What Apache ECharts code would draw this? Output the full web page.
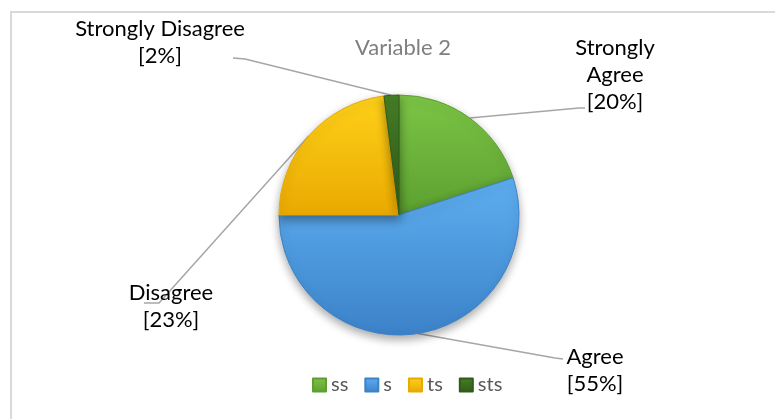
<!DOCTYPE html>
<html>
<head>
<meta charset="utf-8">
<script src="https://cdn.jsdelivr.net/npm/echarts@6/dist/echarts.min.js"></script>
<style>
  html, body { margin: 0; padding: 0; background: #fff; }
  #main { width: 775px; height: 419px; }
</style>
</head>
<body>
<div id="main"></div>
<script>
// data
var categories = ["ss", "s", "ts", "sts"];
var answerNames = ["Strongly\nAgree", "Agree", "Disagree", "Strongly Disagree"];
var percentages = [20, 55, 23, 2];

// colours (top / bottom of each slice)
var sliceColors = [
  ["#7cc646", "#5c9f30"],
  ["#5eaef0", "#3c82c9"],
  ["#ffd11a", "#e9a900"],
  ["#467f26", "#2f5c18"]
];
// where the labels sit (centre of the text block)
var labelSpots = [[615, 75], [595, 370], [171, 306], [160, 42]];
// leader line ends, relative to the label centre: [elbow, end]
var lineEnds = [
  [[-36, 33], [-30, 33]],
  [[-40, -12], [-32, -11]],
  [[-12, -3], [-27, -3]],
  [[85, 17], [73, 16]]
];

var myChart = echarts.init(document.getElementById("main"));

var pieData = categories.map(function (c, i) {
  return {
    name: c,
    value: percentages[i],
    answer: answerNames[i],
    itemStyle: {
      color: new echarts.graphic.LinearGradient(0, 0, 0, 1, [
        { offset: 0, color: sliceColors[i][0] },
        { offset: 1, color: sliceColors[i][1] }
      ]),
      borderColor: sliceColors[i][1]
    }
  };
});

myChart.setOption({
  animation: false,
  title: {
    text: "Variable 2",
    left: 350,
    top: 32,
    textStyle: { color: "#7f7f7f", fontSize: 22, fontWeight: "normal", fontFamily: "Lato" }
  },
  legend: {
    data: categories,
    bottom: 19,
    left: 307,
    icon: "rect",
    itemWidth: 13,
    itemHeight: 13,
    itemGap: 16,
    textStyle: { color: "#595959", fontSize: 20, fontFamily: "Lato" }
  },
  graphic: [{
    type: "rect",
    shape: { x: 11, y: 12, width: 800, height: 450 },
    style: { fill: null, stroke: "#d9d9d9", lineWidth: 2 },
    silent: true
  }],
  series: [{
    type: "pie",
    center: [399, 215],
    radius: 120,
    startAngle: 90,
    clockwise: true,
    data: pieData,
    itemStyle: {
      borderWidth: 1,
      shadowBlur: 10,
      shadowOffsetY: 4,
      shadowColor: "rgba(0,0,0,0.35)"
    },
    label: {
      show: true,
      position: "outside",
      color: "#000",
      fontSize: 22,
      lineHeight: 27,
      fontFamily: "Lato",
      align: "center",
      formatter: function (p) {
        return p.data.answer + "\n[" + p.value + "%]";
      }
    },
    labelLine: {
      show: true,
      length: 20,
      length2: 10,
      lineStyle: { color: "#a6a6a6", width: 1.5 }
    },
    labelLayout: function (params) {
      var i = params.dataIndex;
      var s = labelSpots[i];
      var out = {
        x: s[0],
        y: s[1],
        align: "center",
        verticalAlign: "middle",
        moveOverlap: false,
        hideOverlap: false
      };
      if (params.labelLinePoints) {
        var start = params.labelLinePoints[0];
        out.labelLinePoints = [
          start,
          [s[0] + lineEnds[i][0][0], s[1] + lineEnds[i][0][1]],
          [s[0] + lineEnds[i][1][0], s[1] + lineEnds[i][1][1]]
        ];
      }
      return out;
    },
    emphasis: { disabled: true }
  }]
});

window.addEventListener("resize", function () {
  myChart.resize();
});
</script>
</body>
</html>
